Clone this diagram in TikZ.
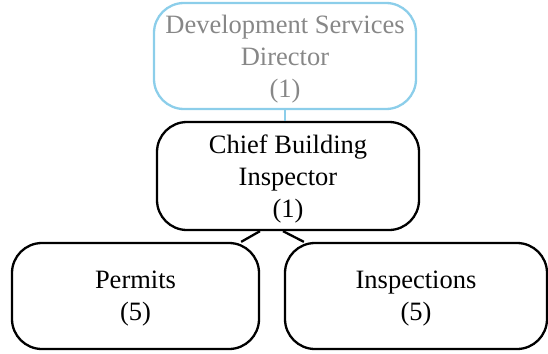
\documentclass[tikz,border=0pt]{standalone}
\usepackage{fontspec}
\setmainfont{Liberation Serif}
\usepackage{xcolor}
\usepackage{tikz}
\definecolor{boxblue}{RGB}{140,206,234}
\definecolor{textgray}{RGB}{135,135,135}
\newcommand{\boxfont}{\fontsize{26.5}{32}\selectfont}

\begin{document}
\begin{tikzpicture}[x=1pt,y=-1pt,line width=2.3pt,
  unit/.style={draw,rounded corners=30pt,align=center,font=\boxfont,inner sep=0pt,text depth=0pt},
  director/.style={unit,draw=boxblue,text=textgray}]
  \useasboundingbox (0,0) rectangle (548,353);
  \node[director,minimum width=262pt,minimum height=106pt] (dir) at (285,56) {Development Services\\Director\\(1)};
  \node[unit,minimum width=262pt,minimum height=108pt] (chief) at (288,176) {Chief Building\\Inspector\\(1)};
  \node[unit,minimum width=247pt,minimum height=106pt] (permits) at (135.5,296) {Permits\\(5)};
  \node[unit,minimum width=262pt,minimum height=106pt] (insp) at (416,296) {Inspections\\(5)};
  \draw[boxblue] (dir.south) -- (dir.south |- chief.north);
  \draw ([xshift=-28pt]chief.south) -- ([xshift=-19pt]permits.north east);
  \draw ([xshift=-5pt]chief.south) -- ([xshift=20pt]insp.north west);
\end{tikzpicture}
\end{document}
